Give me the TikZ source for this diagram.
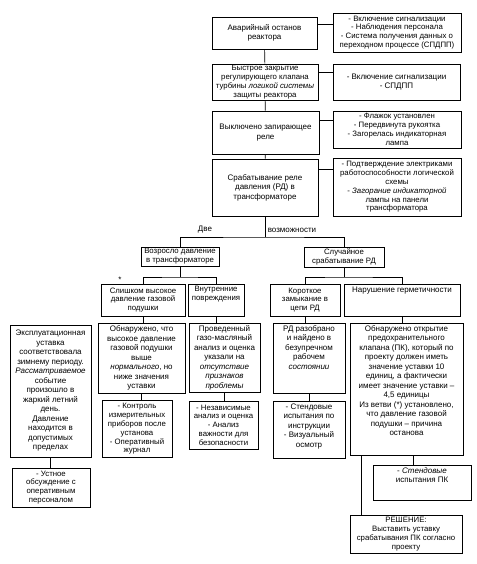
\documentclass[tikz,border=0pt]{standalone}
\usepackage{fontspec}
\setmainfont{Liberation Sans}
\newcommand{\bx}[4]{\parbox[c][#2pt][#3]{#1pt}{\centering\ifx t#3\vspace*{2.5pt}\fi #4\par}}
\newcommand{\tight}{\fontsize{7.8}{8.8}\selectfont}
\begin{document}
\begin{tikzpicture}[x=1pt,y=-1pt,
  box/.style={draw, line width=0.6pt, inner sep=0pt, font=\fontsize{8}{9.5}\selectfont},
  lbl/.style={inner sep=0pt, font=\fontsize{8}{9.5}\selectfont},
  conn/.style={line width=0.6pt}]
\useasboundingbox (0,0) rectangle (476,564);
% main column
\node[box] (A1) at (264.5,33) {\bx{105}{32}{c}{Аварийный останов\\реактора}};
\node[box] (R1) at (397,32.5) {\bx{128}{39}{c}{\tight - Включение сигнализации\\- Наблюдения персонала\\- Система получения данных о\\переходном процессе (СПДПП)}};
\node[box] (A2) at (265,82) {\bx{106}{36}{c}{\tight Быстрое закрытие\\регулирующего клапана\\турбины \textit{логикой системы}\\защиты реактора}};
\node[box] (R2) at (396.5,82) {\bx{127}{36}{c}{- Включение сигнализации\\- СПДПП}};
\node[box] (A3) at (265.5,132.5) {\bx{107}{43}{c}{Выключено запирающее\\реле}};
\node[box] (R3) at (397,129.5) {\bx{128}{37}{c}{\tight - Флажок установлен\\- Передвинута рукоятка\\- Загорелась индикаторная\\лампа}};
\node[box] (A4) at (265,187.5) {\bx{106}{57}{c}{Срабатывание реле\\давления (РД) в\\трансформаторе}};
\node[box] (R4) at (397,187) {\bx{128}{58}{c}{\tight - Подтверждение электриками\\работоспособности логической\\схемы\\- \textit{Загорание индикаторной}\\лампы на панели\\трансформатора}};
\draw[conn] (A1) -- (A2);
\draw[conn] (A2) -- (A3);
\draw[conn] (A3) -- (A4);
\draw[conn] (A1.east |- 0,24) -- (R1.west |- 0,24);
\draw[conn] (A2.east |- 0,72) -- (R2.west |- 0,72);
\draw[conn] (A3.east |- 0,120) -- (R3.west |- 0,120);
\draw[conn] (A4.east |- 0,169) -- (R4.west |- 0,169);
% two possibilities
\node[lbl] (L1) at (205,230) {Две};
\node[lbl] (L2) at (292,230) {возможности};
\node[box] (B1) at (180,256.5) {\bx{78}{19}{c}{\tight Возросло давление\\в трансформаторе}};
\node[box] (B2) at (344,257) {\bx{80}{20}{c}{\tight Случайное\\срабатывание РД}};
\coordinate (d1) at (265,237);
\draw[conn] (A4.south) -- (d1);
\draw[conn] (B1.north) |- (d1) -| (B2.north);
% row C
\node[box] (C1) at (143,300) {\bx{84}{32}{c}{\tight Слишком высокое\\давление газовой\\подушки}};
\node[box] (C2) at (216,300) {\bx{56}{32}{t}{\tight Внутренние\\повреждения}};
\node[box] (C3) at (305,300) {\bx{70}{32}{c}{\tight Короткое\\замыкание в\\цепи РД}};
\node[box] (C4) at (402,300) {\bx{116}{32}{t}{Нарушение герметичности}};
\node[lbl] (star) at (120,280) {*};
\coordinate (d2) at (180,277);
\coordinate (d3) at (344,277);
\draw[conn] (B1.south) -- (d2);
\draw[conn] (C1.north) |- (d2) -| (C2.north);
\draw[conn] (B2.south) -- (d3);
\draw[conn] (C3.north) |- (d3) -| (C4.north);
% row D
\node[box] (D0) at (50.5,391) {\bx{81}{132}{c}{Эксплуатационная\\уставка\\соответствовала\\зимнему периоду.\\\textit{Рассматриваемое}\\событие\\произошло в\\жаркий летний\\день.\\Давление\\находится в\\допустимых\\пределах}};
\node[box] (D1) at (141.5,358) {\bx{87}{70}{c}{Обнаружено, что\\высокое давление\\газовой подушки\\выше\\\textit{нормального}, но\\ниже значения\\уставки}};
\node[box] (D2) at (224.5,357.5) {\bx{71}{69}{c}{Проведенный\\газо-масляный\\анализ и оценка\\указали на\\\textit{отсутствие}\\\textit{признаков}\\\textit{проблемы}}};
\node[box] (D3) at (309,358) {\bx{72}{70}{t}{РД разобрано\\и найдено в\\безупречном\\рабочем\\\textit{состоянии}}};
\node[box] (D4) at (406.5,389) {\bx{113}{132}{t}{Обнаружено открытие\\предохранительного\\клапана (ПК), который по\\проекту должен иметь\\значение уставки 10\\единиц, а фактически\\имеет значение уставки –\\4,5 единицы\\Из ветви (*) установлено,\\что давление газовой\\подушки – причина\\останова}};
\draw[conn] (C1.south) -- (C1.south |- D1.north);
\draw[conn] (C2.south) -- (C2.south |- D2.north);
\draw[conn] (C3.south) -- (C3.south |- D3.north);
\draw[conn] (C4.south) -- (C4.south |- D4.north);
% row E
\node[box] (E1) at (137,429) {\bx{70}{57}{c}{\tight - Контроль\\измерительных\\приборов после\\установа\\- Оперативный\\журнал}};
\node[box] (E2) at (223.5,425) {\bx{69}{48}{c}{\tight - Независимые\\анализ и оценка\\- Анализ\\важности для\\безопасности}};
\node[box] (E3) at (309,429.5) {\bx{72}{57}{t}{- Стендовые\\испытания по\\инструкции\\- Визуальный\\осмотр}};
\node[box] (E4) at (422,482.5) {\bx{98}{35}{t}{- \textit{Стендовые}\\испытания ПК}};
\node[box] (F) at (406,534) {\bx{112}{38}{c}{\tight РЕШЕНИЕ:\\Выставить уставку\\срабатывания ПК согласно\\проекту}};
\node[box] (G) at (51,487.5) {\bx{78}{39}{c}{\tight - Устное\\обсуждение с\\оперативным\\персоналом}};
\draw[conn] (D1.south) -- (D1.south |- E1.north);
\draw[conn] (D2.south) -- (D2.south |- E2.north);
\draw[conn] (D3.south) -- (D3.south |- E3.north);
\draw[conn] ([xshift=-9pt]E4.north) -- ([xshift=-9pt]E4.north |- D4.south);
\draw[conn] ([xshift=12pt]D4.south west) -- ([xshift=12pt]F.north west);
\draw[conn] (D0.south) -- (D0.south |- G.north);
\end{tikzpicture}
\end{document}
